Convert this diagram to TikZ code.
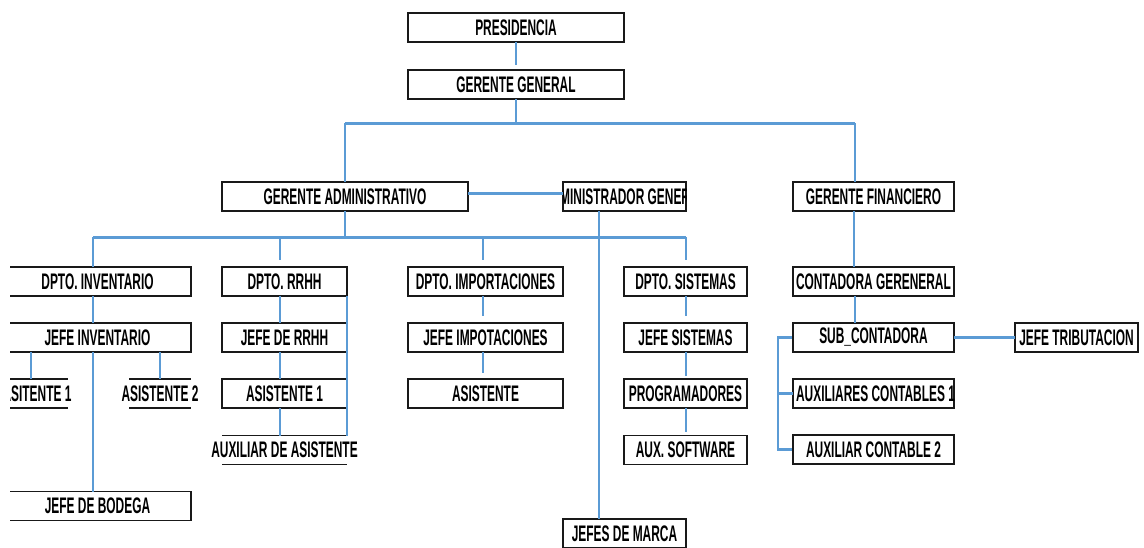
\documentclass[tikz,border=0pt]{standalone}
\usepackage{fontspec}
\setmainfont{Liberation Sans}[FakeStretch=0.53]
\usepackage{xcolor}
\usetikzlibrary{calc}

\definecolor{azul}{RGB}{91,155,213}
\newcommand{\orgfont}{\bfseries\fontsize{22.5}{22.5}\selectfont}

\tikzset{
  cargo/.style={draw=black!90, line width=1.6pt, minimum height=29pt, inner sep=0pt, outer sep=0pt, font=\orgfont},
  abierto/.style={minimum height=29pt, inner sep=0pt, outer sep=0pt, font=\orgfont},
  rotulo/.style={inner sep=0pt, font=\orgfont},
  enlace/.style={azul, line width=2pt},
  troncal/.style={azul, line width=3pt}
}

\begin{document}
\begin{tikzpicture}[x=1pt, y=-1pt]
        % 1. Sheet (left edge of the chart is cut off)
        \useasboundingbox (0,0) rectangle (1144,547);
        \clip (10,0) rectangle (1144,547);

        % 2. Top of the chart
        \node[cargo, minimum width=216pt] (pres) at (516,27.5) {PRESIDENCIA};
        \node[cargo, minimum width=216pt] (gg) at (516,84.5) {GERENTE GENERAL};

        % 3. Second level
        \node[cargo, minimum width=246pt] (ga) at (345,196.5) {GERENTE ADMINISTRATIVO};
        \node[cargo, minimum width=123pt] (admg) at (624.5,196.5) {};
        \node[cargo, minimum width=161pt] (gf) at (873.5,196.5) {GERENTE FINANCIERO};
        \begin{scope}
            \clip (admg.south west) rectangle (admg.north east);
            \node[rotulo] (admgtxt) at (admg.center) {ADMINISTRADOR GENERAL};
        \end{scope}

        % 4. Departments
        \node[cargo, minimum width=187pt] (inv) at (97.5,281.5) {DPTO. INVENTARIO};
        \node[cargo, minimum width=125pt] (rrhh) at (284.5,281.5) {DPTO. RRHH};
        \node[cargo, minimum width=155pt] (imp) at (485.5,281.5) {DPTO. IMPORTACIONES};
        \node[cargo, minimum width=123pt] (sis) at (685.5,281.5) {DPTO. SISTEMAS};
        \node[cargo, minimum width=161pt] (cont) at (873.5,281.5) {CONTADORA GERENERAL};

        % 5. Heads
        \node[cargo, minimum width=187pt] (jinv) at (97.5,337.5) {JEFE INVENTARIO};
        \node[cargo, minimum width=125pt] (jrrhh) at (284.5,337.5) {JEFE DE RRHH};
        \node[cargo, minimum width=155pt] (jimp) at (485.5,337.5) {JEFE IMPOTACIONES};
        \node[cargo, minimum width=123pt] (jsis) at (685.5,337.5) {JEFE SISTEMAS};
        \node[cargo, minimum width=161pt] (sub) at (873.5,337.5) {SUB\_CONTADORA};
        \node[cargo, minimum width=123pt] (trib) at (1076.5,337.5) {JEFE TRIBUTACION};

        % 6. Assistants
        \node[abierto, minimum width=62pt] (as1) at (37,393.5) {\makebox[0pt]{ASITENTE 1}};
        \node[abierto, minimum width=62pt] (as2) at (160,393.5) {\makebox[0pt]{ASISTENTE 2}};
        \node[cargo, minimum width=125pt] (asr) at (284.5,393.5) {ASISTENTE 1};
        \node[cargo, minimum width=155pt] (asi) at (485.5,393.5) {ASISTENTE};
        \node[cargo, minimum width=123pt] (prog) at (685.5,393.5) {PROGRAMADORES};
        \node[cargo, minimum width=161pt] (aux1) at (873.5,393.5) {};
        \begin{scope}
            \clip (aux1.south west) rectangle (aux1.north east);
            \node[rotulo] (aux1txt) at ([xshift=2pt]aux1.center) {AUXILIARES CONTABLES 1};
        \end{scope}

        \node[abierto, minimum width=125pt] (auxa) at (284.5,450) {\makebox[0pt]{AUXILIAR DE ASISTENTE}};
        \node[cargo, minimum width=123pt] (auxs) at (685.5,450) {AUX. SOFTWARE};
        \node[cargo, minimum width=161pt] (aux2) at (873.5,449.5) {AUXILIAR CONTABLE 2};

        \node[cargo, minimum width=187pt] (bod) at (97.5,506) {JEFE DE BODEGA};
        \node[cargo, minimum width=123pt] (marca) at (624.5,533.5) {JEFES DE MARCA};

        % open boxes: only top and bottom rules
        \foreach \n in {as1, as2, auxa} {
            \draw[black!90, line width=1.6pt] (\n.north west) -- (\n.north east) (\n.south west) -- (\n.south east);
        }

        % 7. Connectors
        \coordinate (bus1) at (514,123);
        \coordinate (bus2) at (345,237);

        \draw[enlace, shorten >=5pt] (pres.south) -- (gg.north);
        \draw[enlace] (gg.south) -- (gg.south |- bus1);
        \draw[troncal] (ga.north |- bus1) -- ([xshift=-19pt]gf.north |- bus1);
        \draw[enlace] (ga.north |- bus1) -- (ga.north);
        \draw[enlace] ([xshift=-19pt]gf.north |- bus1) -- ([xshift=-19pt]gf.north);

        \draw[troncal] ([yshift=3pt]ga.east) -- ([yshift=3pt]admg.west);
        \draw[enlace] ([xshift=-25.5pt]admg.south) -- ([xshift=-25.5pt]marca.north);

        \draw[enlace] (ga.south) -- (bus2);
        \draw[troncal] ([xshift=-4.5pt]inv.north |- bus2) -- (sis.north |- bus2);
        \draw[enlace] ([xshift=-4.5pt]inv.north |- bus2) -- ([xshift=-4.5pt]inv.north);
        \draw[enlace, shorten >=7pt] ([xshift=-4.5pt]rrhh.north |- bus2) -- ([xshift=-4.5pt]rrhh.north);
        \draw[enlace, shorten >=7pt] ([xshift=-2.5pt]imp.north |- bus2) -- ([xshift=-2.5pt]imp.north);
        \draw[enlace, shorten >=7pt] (sis.north |- bus2) -- (sis.north);

        % inventario branch
        \draw[enlace] ([xshift=-5pt]inv.south) -- ([xshift=-5pt]jinv.north);
        \draw[enlace] ([xshift=-6pt]as1.north |- jinv.south) -- ([xshift=-6pt]as1.north);
        \draw[enlace] (as2.north |- jinv.south) -- (as2.north);
        \draw[enlace] ([xshift=-4.5pt]jinv.south) -- ([xshift=-4.5pt]bod.north);

        % rrhh branch
        \draw[enlace] ([xshift=-4.5pt]rrhh.south) -- ([xshift=-4.5pt]jrrhh.north);
        \draw[enlace] ([xshift=-4.5pt]jrrhh.south) -- ([xshift=-4.5pt]asr.north);
        \draw[enlace] ([xshift=-4.5pt]asr.south) -- ([xshift=-4.5pt]auxa.north);
        \draw[enlace] (rrhh.south east) -- (auxa.north east);

        % importaciones branch
        \draw[enlace, shorten >=7pt] ([xshift=-2.5pt]imp.south) -- ([xshift=-2.5pt]jimp.north);
        \draw[enlace, shorten >=6pt] ([xshift=-2.5pt]jimp.south) -- ([xshift=-2.5pt]asi.north);

        % sistemas branch
        \draw[enlace, shorten >=7pt] (sis.south) -- (jsis.north);
        \draw[enlace, shorten >=3pt] (jsis.south) -- (prog.north);
        \draw[enlace, shorten >=4pt] (prog.south) -- (auxs.north);

        % financiero branch
        \draw[enlace] ([xshift=-20pt]gf.south) -- ([xshift=-20pt]cont.north);
        \draw[enlace] ([xshift=-18.5pt]cont.south) -- ([xshift=-18.5pt]sub.north);
        \draw[troncal] (sub.east) -- (trib.west);
        \draw[enlace, line width=2.5pt] ([xshift=-1pt]sub.west) -- ++(-14,0) |- ([xshift=-1pt]aux2.west);
        \draw[enlace, line width=2.5pt] (aux1.west) -- ++(-14,0);

    \end{tikzpicture}
\end{document}
